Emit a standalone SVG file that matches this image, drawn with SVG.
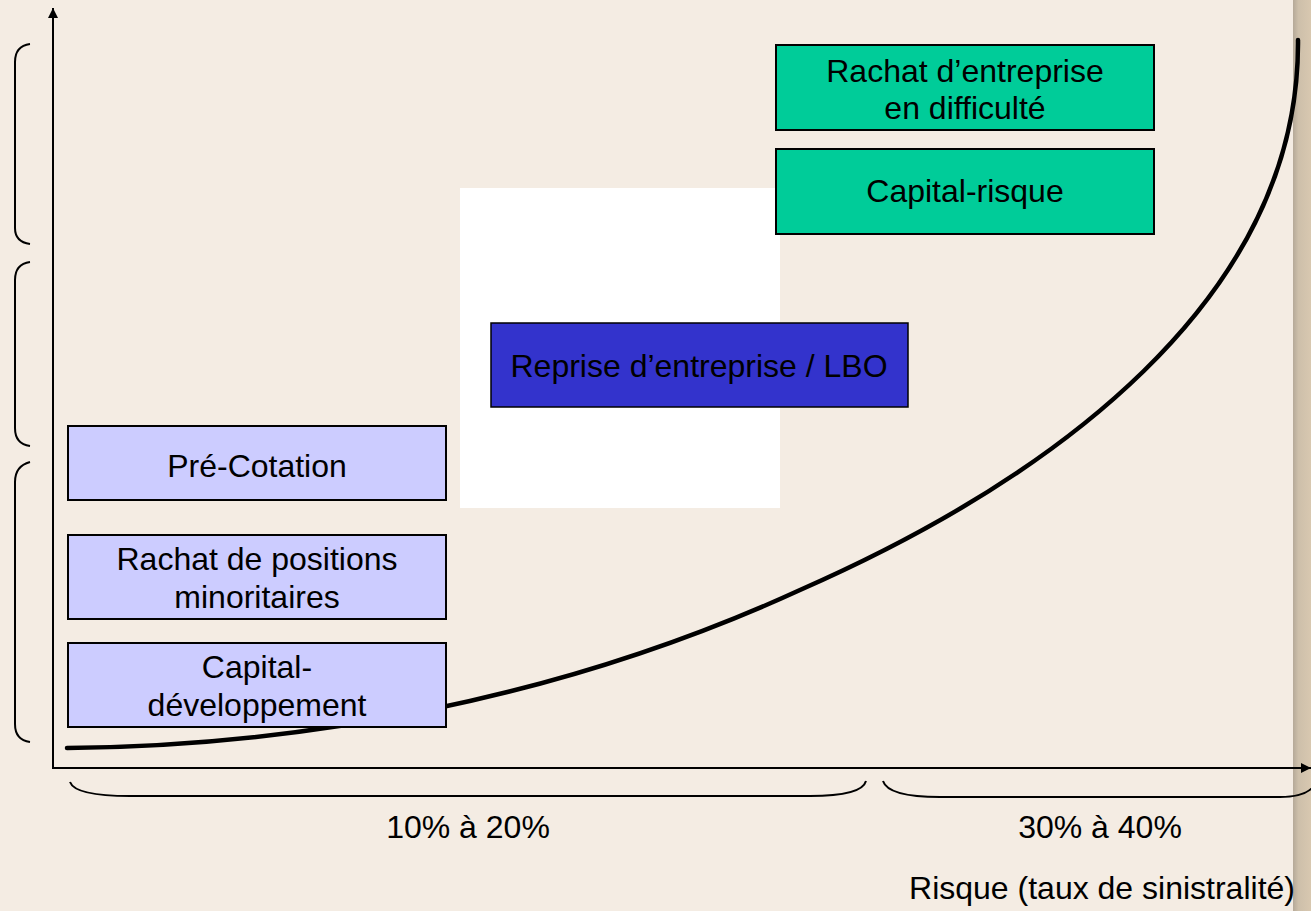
<svg xmlns="http://www.w3.org/2000/svg" width="1311" height="911" viewBox="0 0 1311 911">
<defs>
<linearGradient id="edge" x1="0" y1="0" x2="1" y2="0">
<stop offset="0" stop-color="#B5A998"/>
<stop offset="0.3" stop-color="#CDBFAA"/>
<stop offset="1" stop-color="#D8C8B0"/>
</linearGradient>
<marker id="arr" viewBox="0 0 10 10" refX="10" refY="5" markerWidth="10" markerHeight="10" markerUnits="userSpaceOnUse" orient="auto">
<path d="M0,0 L10,5 L0,10 Z" fill="#000"/>
</marker>
</defs>
<style>
.box{stroke:#000;stroke-width:2}
.lav{fill:#CCCCFF}
.grn{fill:#00CC99}
.blu{fill:#3333CC;stroke-width:1.5}
.t{font-family:"Liberation Sans",Arial,sans-serif;font-size:32px;fill:#000;text-anchor:middle}
.brace{fill:none;stroke:#000;stroke-width:2}
</style>
<rect width="1311" height="911" fill="#F4ECE3"/>
<rect x="1293" y="0" width="18" height="911" fill="url(#edge)"/>
<rect x="460" y="188" width="320" height="320" fill="#FFFFFF"/>

<g id="braces">
<path class="brace" d="M30,44 Q15,46 15,62 L15,228 Q15,242 30,244"/>
<path class="brace" d="M30,262 Q15,264 15,280 L15,428 Q15,444 30,446"/>
<path class="brace" d="M30,462 Q15,466 15,482 L15,724 Q15,740 30,742"/>
<path class="brace" d="M70,782 Q75,796 130,796 L810,796 Q862,796 866,781"/>
<path class="brace" d="M883,781 Q888,797 940,797 L1280,797 Q1305,797 1314,786"/>
</g>

<g id="connectors">
<line x1="53" y1="768" x2="53" y2="8" stroke="#000" stroke-width="2" marker-end="url(#arr)"/>
<line x1="52" y1="768" x2="1311" y2="768" stroke="#000" stroke-width="2" marker-end="url(#arr)"/>
<path d="M67,748 C300,746 560,700 800,590 C1050,480 1300,300 1298,40" fill="none" stroke="#000" stroke-width="4.5" stroke-linecap="round"/>
</g>

<g id="node-precotation">
<rect class="box lav" x="68" y="426" width="378" height="74"/>
<text class="t" x="257" y="477">Pré-Cotation</text>
</g>
<g id="node-rachat-positions">
<rect class="box lav" x="68" y="535" width="378" height="84"/>
<text class="t" x="257" y="570">Rachat de positions</text>
<text class="t" x="257" y="608">minoritaires</text>
</g>
<g id="node-capital-dev">
<rect class="box lav" x="68" y="643" width="378" height="84"/>
<text class="t" x="257" y="678">Capital-</text>
<text class="t" x="257" y="716">développement</text>
</g>
<g id="node-lbo">
<rect class="box blu" x="491" y="323" width="417" height="84"/>
<text class="t" x="699" y="377">Reprise d’entreprise / LBO</text>
</g>
<g id="node-rachat-difficulte">
<rect class="box grn" x="776" y="45" width="378" height="85"/>
<text class="t" x="965" y="82">Rachat d’entreprise</text>
<text class="t" x="965" y="119">en difficulté</text>
</g>
<g id="node-capital-risque">
<rect class="box grn" x="776" y="149" width="378" height="85"/>
<text class="t" x="965" y="202">Capital-risque</text>
</g>

<text class="t" x="468" y="838">10% à 20%</text>
<text class="t" x="1100" y="838">30% à 40%</text>
<text class="t" x="1102" y="899">Risque (taux de sinistralité)</text>
</svg>
